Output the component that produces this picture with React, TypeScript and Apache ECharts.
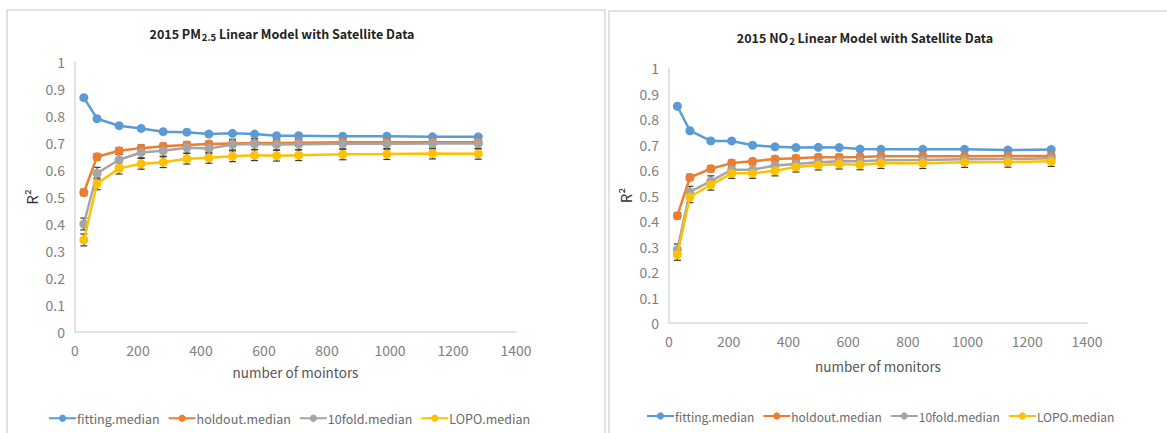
import React, { useEffect, useRef } from "react";
import * as echarts from "echarts";

const monitorCounts = [28, 70, 140, 210, 280, 355, 425, 500, 570, 640, 710, 850, 990, 1135, 1280];

// PM2.5 chart
const pmFitting = [0.868, 0.79, 0.764, 0.754, 0.742, 0.74, 0.733, 0.736, 0.733, 0.727, 0.727, 0.725, 0.725, 0.723, 0.723];
const pmHoldout = [0.517, 0.649, 0.671, 0.681, 0.688, 0.693, 0.696, 0.698, 0.7, 0.7, 0.701, 0.703, 0.703, 0.703, 0.703];
const pmTenfold = [0.4, 0.588, 0.638, 0.665, 0.671, 0.682, 0.68, 0.694, 0.696, 0.694, 0.695, 0.697, 0.697, 0.698, 0.698];
const pmLopo = [0.341, 0.549, 0.606, 0.623, 0.629, 0.642, 0.645, 0.651, 0.655, 0.653, 0.655, 0.658, 0.659, 0.661, 0.66];
const pmHoldoutErr = [0.012, 0.012, 0.012, 0.012, 0.011, 0.011, 0.011, 0.011, 0.011, 0.011, 0.011, 0.011, 0.011, 0.011, 0.011];
const pmTenfoldErr = [0.022, 0.022, 0.021, 0.02, 0.02, 0.02, 0.02, 0.02, 0.02, 0.02, 0.02, 0.02, 0.02, 0.02, 0.02];
const pmLopoErr = [0.022, 0.022, 0.021, 0.02, 0.02, 0.02, 0.02, 0.02, 0.02, 0.02, 0.02, 0.02, 0.02, 0.02, 0.02];

// NO2 chart
const noFitting = [0.85, 0.754, 0.714, 0.714, 0.697, 0.691, 0.688, 0.689, 0.688, 0.682, 0.681, 0.681, 0.681, 0.678, 0.68];
const noHoldout = [0.421, 0.571, 0.605, 0.627, 0.634, 0.643, 0.646, 0.65, 0.65, 0.651, 0.654, 0.654, 0.654, 0.655, 0.655];
const noTenfold = [0.288, 0.514, 0.556, 0.601, 0.601, 0.618, 0.624, 0.63, 0.634, 0.634, 0.638, 0.639, 0.642, 0.643, 0.646];
const noLopo = [0.268, 0.494, 0.542, 0.587, 0.587, 0.597, 0.612, 0.62, 0.624, 0.621, 0.626, 0.626, 0.63, 0.631, 0.634];
const noHoldoutErr = [0.012, 0.012, 0.012, 0.012, 0.011, 0.011, 0.011, 0.011, 0.011, 0.011, 0.011, 0.011, 0.011, 0.011, 0.011];
const noTenfoldErr = [0.022, 0.022, 0.021, 0.02, 0.02, 0.02, 0.02, 0.02, 0.02, 0.02, 0.02, 0.02, 0.02, 0.02, 0.02];
const noLopoErr = [0.022, 0.022, 0.021, 0.02, 0.02, 0.02, 0.02, 0.02, 0.02, 0.02, 0.02, 0.02, 0.02, 0.02, 0.02];

const seriesNames = ["fitting.median", "holdout.median", "10fold.median", "LOPO.median"];
const seriesColors = ["#5B9BD5", "#ED7D31", "#A5A5A5", "#FFC000"];
const yTicks = [0, 0.1, 0.2, 0.3, 0.4, 0.5, 0.6, 0.7, 0.8, 0.9, 1];

const FONT = "'Noto Sans CJK SC', 'Noto Sans', sans-serif";

function pairs(ys: number[]) {
  return ys.map((y, i) => [monitorCounts[i], y]);
}
function errData(ys: number[], errs: number[]) {
  return ys.map((y, i) => [monitorCounts[i], y - errs[i], y + errs[i]]);
}

const errorRender = (params: any, api: any) => {
  const x = api.value(0);
  const lo = api.coord([x, api.value(1)]);
  const hi = api.coord([x, api.value(2)]);
  const w = 3.5;
  const style = { stroke: "#3a3a3a", lineWidth: 1.2 };
  return {
    type: "group",
    children: [
      { type: "line", shape: { x1: lo[0], y1: lo[1], x2: hi[0], y2: hi[1] }, style },
      { type: "line", shape: { x1: lo[0] - w, y1: lo[1], x2: lo[0] + w, y2: lo[1] }, style },
      { type: "line", shape: { x1: hi[0] - w, y1: hi[1], x2: hi[0] + w, y2: hi[1] }, style },
    ],
  };
};

export default function App() {
  const ref = useRef<HTMLDivElement>(null);
  useEffect(() => {
    if (!ref.current) return;
    const chart = echarts.init(ref.current, undefined, { renderer: "svg" });

    const axisLabel = { color: "#808080", fontSize: 14, fontFamily: FONT };
    const axisLine = { show: true, lineStyle: { color: "#d9d9d9", width: 1.5 } };

    const mkX = (gi: number, name: string, gap: number) => ({
      type: "value",
      gridIndex: gi,
      min: 0,
      max: 1400,
      interval: 200,
      name,
      nameLocation: "middle",
      nameGap: gap,
      nameTextStyle: { color: "#555", fontSize: 13.5, fontFamily: FONT },
      axisLine,
      axisTick: { show: false },
      splitLine: { show: false },
      axisLabel: { ...axisLabel, margin: 11, formatter: (v: number) => String(v) },
    });
    const mkY = (gi: number) => ({
      type: "value",
      gridIndex: gi,
      min: yTicks[0],
      max: yTicks[yTicks.length - 1],
      interval: 0.1,
      name: "R²",
      nameLocation: "middle",
      nameRotate: 90,
      nameGap: 36,
      nameTextStyle: { color: "#333", fontSize: 15, fontFamily: FONT },
      axisLine,
      axisTick: { show: false },
      splitLine: { show: false },
      axisLabel: { ...axisLabel, margin: 10, formatter: (v: number) => String(Math.round(v * 10) / 10) },
    });

    const lineSeries = (gi: number, data: number[][], idx: number) => ({
      type: "line",
      name: seriesNames[idx],
      xAxisIndex: gi,
      yAxisIndex: gi,
      data,
      symbol: "circle",
      symbolSize: 9,
      z: 3 + idx,
      lineStyle: { width: 2.5, color: seriesColors[idx] },
      itemStyle: { color: seriesColors[idx] },
    });
    const errSeries = (gi: number, data: number[][]) => ({
      type: "custom",
      xAxisIndex: gi,
      yAxisIndex: gi,
      data,
      renderItem: errorRender,
      encode: { x: 0, y: [1, 2] },
      z: 2,
      silent: true,
    });

    const mkLegend = (left: number, top: number, fs: number) => ({
      data: seriesNames,
      left,
      top,
      width: 600,
      itemWidth: 27,
      itemHeight: 9,
      itemGap: 8,
      textStyle: { color: "#6a6a6a", fontSize: fs, fontFamily: FONT, padding: [0, 0, 0, -4] },
    });

    const subRich = { sub: { fontSize: 9.5, fontWeight: "bold", fontFamily: FONT, color: "#222", padding: [7, 0, 0, 1] } };
    const titleStyle = { fontSize: 12.5, fontWeight: "bold", color: "#222", fontFamily: FONT, rich: subRich };

    chart.setOption({
      animation: false,
      backgroundColor: "#ffffff",
      color: seriesColors,
      graphic: [
        { type: "rect", shape: { x: 7, y: 10, width: 598, height: 440 }, style: { fill: "none", stroke: "#d9d9d9", lineWidth: 1.5 }, silent: true },
        { type: "rect", shape: { x: 609, y: 11, width: 580, height: 440 }, style: { fill: "none", stroke: "#d9d9d9", lineWidth: 1.5 }, silent: true },
      ],
      title: [
        { text: "2015 PM{sub|2.5} Linear Model with Satellite Data", left: 277, top: 20, textAlign: "center", textStyle: titleStyle },
        { text: "2015 NO{sub|2} Linear Model with Satellite Data", left: 860, top: 24, textAlign: "center", textStyle: titleStyle },
      ],
      legend: [mkLegend(43, 407, 12.5), mkLegend(641, 405, 12)],
      grid: [
        { left: 75, top: 62, width: 441, height: 270 },
        { left: 669, top: 68, width: 418, height: 255 },
      ],
      xAxis: [mkX(0, "number of mointors", 33), mkX(1, "number of monitors", 36)],
      yAxis: [mkY(0), mkY(1)],
      series: [
        errSeries(0, errData(pmHoldout, pmHoldoutErr)),
        errSeries(0, errData(pmTenfold, pmTenfoldErr)),
        errSeries(0, errData(pmLopo, pmLopoErr)),
        lineSeries(0, pairs(pmFitting), 0),
        lineSeries(0, pairs(pmHoldout), 1),
        lineSeries(0, pairs(pmTenfold), 2),
        lineSeries(0, pairs(pmLopo), 3),
        errSeries(1, errData(noHoldout, noHoldoutErr)),
        errSeries(1, errData(noTenfold, noTenfoldErr)),
        errSeries(1, errData(noLopo, noLopoErr)),
        lineSeries(1, pairs(noFitting), 0),
        lineSeries(1, pairs(noHoldout), 1),
        lineSeries(1, pairs(noTenfold), 2),
        lineSeries(1, pairs(noLopo), 3),
      ],
    });
    return () => chart.dispose();
  }, []);

  return (
    <div
      ref={ref}
      style={{ position: "fixed", left: 0, top: 0, width: 1167, height: 433, background: "#fff" }}
    />
  );
}
